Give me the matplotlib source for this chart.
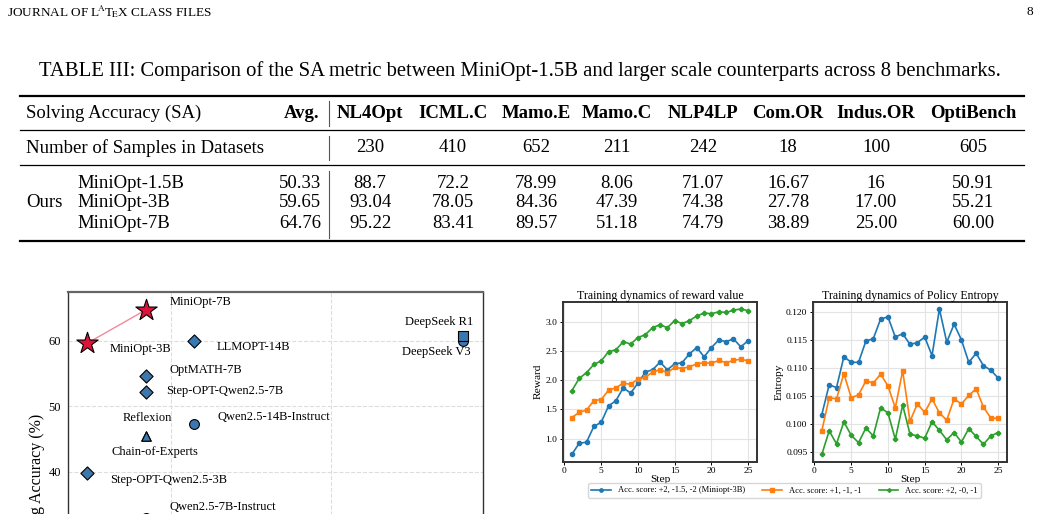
import matplotlib
matplotlib.use("Agg")
import matplotlib.pyplot as plt
from matplotlib.lines import Line2D

plt.rcParams['font.family'] = ['Liberation Serif', 'DejaVu Serif']
plt.rcParams['mathtext.fontset'] = 'stix'

# ---- table data ----
benchmarks = ['NL4Opt', 'ICML.C', 'Mamo.E', 'Mamo.C', 'NLP4LP', 'Com.OR', 'Indus.OR', 'OptiBench']
sample_counts = ['230', '410', '652', '211', '242', '18', '100', '605']
models = ['MiniOpt-1.5B', 'MiniOpt-3B', 'MiniOpt-7B']
avg_sa = ['50.33', '59.65', '64.76']
sa_scores = [
    ['88.7', '72.2', '78.99', '8.06', '71.07', '16.67', '16', '50.91'],
    ['93.04', '78.05', '84.36', '47.39', '74.38', '27.78', '17.00', '55.21'],
    ['95.22', '83.41', '89.57', '51.18', '74.79', '38.89', '25.00', '60.00'],
]

# ---- scatter data (model size in B params vs solving accuracy) ----
sc_names = ['MiniOpt-3B', 'MiniOpt-7B', 'LLMOPT-14B', 'OptMATH-7B', 'Step-OPT-Qwen2.5-7B',
            'Qwen2.5-14B-Instruct', 'Reflexion', 'Chain-of-Experts', 'Step-OPT-Qwen2.5-3B',
            'Qwen2.5-7B-Instruct', 'DeepSeek R1', 'DeepSeek V3']
sc_params = [3, 7, 14, 7, 7, 14, 7, 7, 3, 7, 671, 671]
sc_acc = [59.65, 64.76, 60.0, 54.6, 52.2, 47.4, 45.5, 45.5, 39.8, 33.0, 60.8, 60.05]
sc_kind = ['star', 'star', 'D', 'D', 'D', 'o', '^', '^', 'D', 'o', 's', 'o']

# ---- training dynamics ----
steps = list(range(1, 26))
reward_a = [0.73, 0.92, 0.94, 1.21, 1.28, 1.56, 1.65, 1.87, 1.78, 1.95, 2.14, 2.18, 2.31,
            2.18, 2.28, 2.30, 2.45, 2.56, 2.40, 2.56, 2.69, 2.66, 2.71, 2.57, 2.68]
reward_b = [1.36, 1.45, 1.49, 1.65, 1.67, 1.83, 1.87, 1.95, 1.93, 2.02, 2.05, 2.14, 2.18,
            2.13, 2.22, 2.20, 2.23, 2.28, 2.30, 2.29, 2.34, 2.30, 2.34, 2.36, 2.33]
reward_c = [1.82, 2.03, 2.13, 2.27, 2.33, 2.49, 2.52, 2.66, 2.62, 2.73, 2.78, 2.90, 2.95,
            2.90, 3.02, 2.97, 3.02, 3.10, 3.15, 3.14, 3.17, 3.16, 3.20, 3.22, 3.19]
entropy_a = [0.1017, 0.1070, 0.1065, 0.1120, 0.1110, 0.1110, 0.1148, 0.1152, 0.1187, 0.1191,
             0.1155, 0.1161, 0.1142, 0.1145, 0.1155, 0.1122, 0.1205, 0.1146, 0.1178, 0.1150,
             0.1110, 0.1126, 0.1104, 0.1096, 0.1082]
entropy_b = [0.0988, 0.1047, 0.1045, 0.1090, 0.1047, 0.1052, 0.1077, 0.1073, 0.1089, 0.1068,
             0.1029, 0.1095, 0.1005, 0.1036, 0.1021, 0.1045, 0.1020, 0.1007, 0.1045, 0.1036,
             0.1051, 0.1063, 0.1030, 0.1011, 0.1010]
entropy_c = [0.0946, 0.0988, 0.0965, 0.1004, 0.0980, 0.0967, 0.0993, 0.0979, 0.1029, 0.1020,
             0.0973, 0.1034, 0.0982, 0.0979, 0.0975, 0.1004, 0.0989, 0.0972, 0.0985, 0.0968,
             0.0992, 0.0978, 0.0964, 0.0979, 0.0985]
series_labels = ['Acc. score: +2, -1.5, -2 (Miniopt-3B)', 'Acc. score: +1, -1, -1', 'Acc. score: +2, -0, -1']

W, H = 1041, 514
fig = plt.figure(figsize=(W / 100, H / 100), dpi=100)


def fx(x):
    return x / W


def fy(y):
    return 1 - y / H


def ftext(x, y, s, **kw):
    kw.setdefault('va', 'center')
    fig.text(fx(x), fy(y), s, **kw)


def hline(y, x0, x1, lw):
    fig.add_artist(Line2D([fx(x0), fx(x1)], [fy(y), fy(y)], color='black', lw=lw))


def vline(x, y0, y1):
    fig.add_artist(Line2D([fx(x), fx(x)], [fy(y0), fy(y1)], color='#555555', lw=0.8))


# page header + caption
ftext(7, 12, r'JOURNAL OF L$\!^{\mathrm{A}}$T$\!_{\mathrm{E}}$X CLASS FILES', fontsize=9.5)
ftext(1033, 12, '8', fontsize=9.5, ha='right')
ftext(520, 71, 'TABLE III: Comparison of the SA metric between MiniOpt-1.5B and larger '
      'scale counterparts across 8 benchmarks.', fontsize=14.85, ha='center')

# table
tfs = 13.5
hline(96, 20, 1024, 1.6)
hline(130, 20, 1024, 0.9)
hline(165, 20, 1024, 0.9)
hline(241, 20, 1024, 1.6)
col_x = [370, 453, 536, 617, 703, 788, 876, 973]

ftext(26, 113, 'Solving Accuracy (SA)', fontsize=tfs)
ftext(319, 113, 'Avg.', fontsize=tfs, ha='right', fontweight='bold')
vline(329, 101, 126)
for cx, b in zip(col_x, benchmarks):
    ftext(cx, 113, b, fontsize=tfs, ha='center', fontweight='bold')

ftext(26, 148, 'Number of Samples in Datasets', fontsize=tfs)
vline(329, 136, 160)
for cx, n in zip(col_x, sample_counts):
    ftext(cx, 148, n, fontsize=tfs, ha='center')

ftext(26, 203, 'Ours', fontsize=tfs)
vline(329, 171, 238)
for i, (m, a, row) in enumerate(zip(models, avg_sa, sa_scores)):
    ry = 183 + 20 * i
    ftext(77, ry, m, fontsize=tfs)
    ftext(321, ry, a, fontsize=tfs, ha='right')
    for cx, v in zip(col_x, row):
        ftext(cx, ry, v, fontsize=tfs, ha='center')

# ---- scatter: accuracy vs size ----
ax_top, ax_bot = 292, 635.75
ax0 = fig.add_axes([fx(68), fy(ax_bot), fx(483) - fx(68), (ax_bot - ax_top) / H])
ax0.set_xscale('log')
ax0.set_xlim(2.28, 895)
ax0.set_ylim(15, 67.48)
ax0.set_xticks([10, 100])
ax0.set_xticks([], minor=True)
ax0.set_yticks([20, 30, 40, 50, 60])
ax0.grid(True, ls='--', color='#dddddd', lw=0.8)
ax0.set_axisbelow(True)
for sp in ax0.spines.values():
    sp.set_color('#333333')
    sp.set_linewidth(1.0)
ax0.spines['top'].set_color('#666666')
ax0.spines['top'].set_linewidth(1.6)
ax0.tick_params(labelsize=9, length=0, pad=5)
ax0.set_ylabel('Solving Accuracy (%)', fontsize=11.5)
ax0.yaxis.set_label_coords(-0.055, 0.44)

ax0.plot(sc_params[:2], sc_acc[:2], color='#f08a9a', lw=1.0, zorder=2)
for p, a, k in zip(sc_params, sc_acc, sc_kind):
    if k == 'star':
        ax0.scatter(p, a, marker='*', s=260, color='#dc143c', edgecolor='black', lw=0.8, zorder=4)
    else:
        size = {'D': 45, 'o': 50, '^': 45, 's': 45}[k]
        z = 3.5 if k == 's' else 3
        ax0.scatter(p, a, marker=k, s=size, color='#3b78b0', edgecolor='black', lw=0.8, zorder=z)

label_offsets = [(23, -6, 'left'), (24, 8, 'left'), (23, -6, 'left'), (24, 6, 'left'),
                 (20, 1, 'left'), (23, 7, 'left'), (1, 18, 'center'), (9, -16, 'center'),
                 (23, -7, 'left'), (24, 11, 'left'), (10, 14, 'right'), (8, -11, 'right')]
for name, p, a, (dx, dy, ha) in zip(sc_names, sc_params, sc_acc, label_offsets):
    ax0.annotate(name, (p, a), xytext=(dx, dy), textcoords='offset pixels',
                 ha=ha, va='center', fontsize=9, annotation_clip=False)

# ---- training dynamics ----
colors = ['#1f77b4', '#ff7f0e', '#2ca02c']
marks = ['o', 's', 'P']


def dyn_axes(x0, title, ylabel, ys):
    ax = fig.add_axes([fx(x0), fy(461.7), 194 / W, 160 / H])
    for y, c, m, lab in zip(ys, colors, marks, series_labels):
        ax.plot(steps, y, color=c, marker=m, markersize=3, lw=1.2, label=lab)
    ax.set_title(title, fontsize=8.6, pad=2)
    ax.set_xlabel('Step', fontsize=8.2, labelpad=0)
    ax.set_ylabel(ylabel, fontsize=8.2, labelpad=2)
    ax.set_xticks([0, 5, 10, 15, 20, 25])
    ax.grid(True, color='#e3e3e3', lw=0.8)
    ax.set_axisbelow(True)
    ax.tick_params(labelsize=6.8, length=2.5, width=0.7, pad=1.5)
    for sp in ax.spines.values():
        sp.set_color('#333333')
        sp.set_linewidth(1.4)
    return ax


ax1 = dyn_axes(563, 'Training dynamics of reward value', 'Reward', [reward_a, reward_b, reward_c])
ax1.set_yticks([1.0, 1.5, 2.0, 2.5, 3.0])
ax2 = dyn_axes(813, 'Training dynamics of Policy Entropy', 'Entropy',
               [entropy_a, entropy_b, entropy_c])
ax2.set_yticks([0.095, 0.100, 0.105, 0.110, 0.115, 0.120])
ax2.yaxis.set_major_formatter(matplotlib.ticker.FormatStrFormatter('%.3f'))

h, l = ax1.get_legend_handles_labels()
fig.legend(h, l, loc='center', bbox_to_anchor=(fx(784.5), fy(490.5)), ncol=3, fontsize=6.1,
           frameon=True, edgecolor='#cccccc', handlelength=2.3, columnspacing=2.1,
           borderpad=0.4, handletextpad=0.8, markerscale=0.8)

fig.savefig('out.png', dpi=100)
